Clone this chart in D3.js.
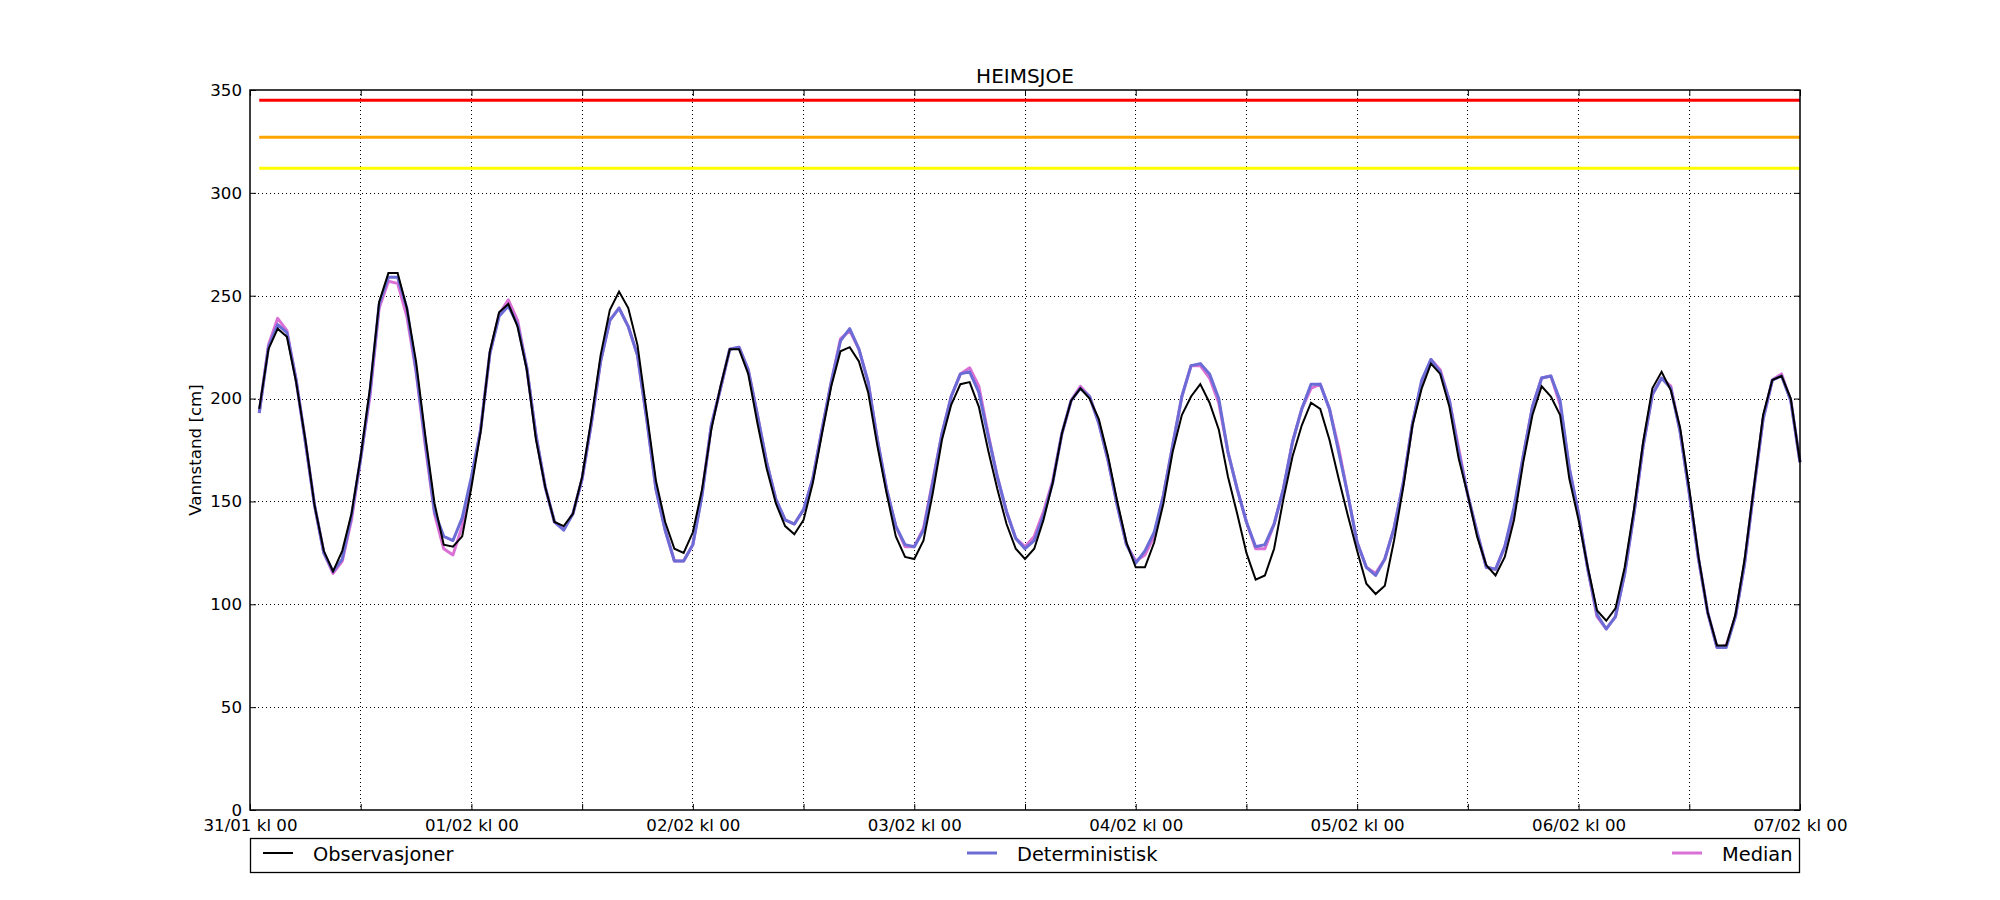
<!DOCTYPE html>
<html>
<head>
<meta charset="utf-8">
<script src="https://cdnjs.cloudflare.com/ajax/libs/d3/7.8.5/d3.min.js"></script>
<style>
  html, body { margin: 0; padding: 0; background: #ffffff; }
  svg { display: block; font-family: "DejaVu Sans", "Liberation Sans", sans-serif; }
</style>
</head>
<body>
<svg id="chart" width="2000" height="900"></svg>
<script>
// ---------- data (hourly, hour 1 .. 168 after 31/01 kl 00) ----------
const title = "HEIMSJOE";
const yLabel = "Vannstand [cm]";
const seriesNames = ["Observasjoner", "Deterministisk", "Median"];
const yTicks = [0, 50, 100, 150, 200, 250, 300, 350];
const thresholds = [345, 327, 312];
const thresholdColors = ["#ff0000", "#ffa500", "#ffff00"];

const observasjoner = [
  195,224,234,230,208,180,148,126,116,126,144,172,205,247,261,261,244,218,182,149,129,128,133,157,
  184,223,242,246,235,214,180,157,140,138,144,162,190,221,243,252,244,226,193,160,140,127,125,135,
  156,185,206,224,224,212,188,166,149,138,134,141,159,183,206,223,225,218,203,177,154,133,123,122,
  131,154,180,197,207,208,196,175,156,139,127,122,127,141,159,183,199,205,200,190,172,150,130,118,
  118,130,149,174,192,201,207,198,185,162,144,125,112,114,127,151,172,187,198,195,180,161,143,126,
  110,105,109,131,157,187,205,217,212,196,171,153,133,119,114,123,141,169,192,206,201,192,161,141,
  118,97,92,98,118,146,179,205,213,204,186,156,123,96,80,80,95,122,157,192,209,211,200,169
];
const deterministisk = [
  193,225,236,232,209,179,148,125,116,122,143,171,203,246,259,259,244,214,179,145,133,131,142,162,
  185,222,240,245,236,215,182,157,140,136,144,161,188,218,238,244,235,221,190,156,136,121,121,129,
  153,187,205,224,225,214,192,169,151,141,139,146,161,185,208,228,234,224,208,180,156,138,129,128,
  136,159,183,201,212,213,203,182,162,145,132,127,131,143,159,183,199,205,201,188,170,148,129,120,
  126,135,153,177,201,216,217,212,200,174,156,140,128,129,139,156,179,195,207,207,195,174,153,130,
  118,114,122,137,159,188,209,219,213,199,174,153,135,118,117,128,147,172,196,210,211,199,166,144,
  117,95,88,94,115,144,177,202,210,205,184,154,122,96,79,79,94,120,156,190,209,211,199,169
];
const median = [
  193,226,239,233,209,179,148,125,115,121,141,171,201,244,257,256,240,213,177,144,127,124,138,160,
  185,222,241,248,238,215,182,157,140,137,144,161,188,218,238,244,235,221,190,156,136,121,121,129,
  154,187,205,224,225,214,192,169,151,141,139,146,161,185,208,229,233,224,208,180,156,138,128,128,
  137,160,183,201,212,215,206,183,162,145,132,128,133,145,160,183,199,206,201,188,170,148,129,121,
  124,133,153,177,201,216,216,210,198,174,156,140,127,127,139,156,179,195,205,207,195,176,153,130,
  118,115,122,137,159,188,208,219,214,199,176,153,135,118,117,128,144,172,196,210,211,197,166,144,
  117,94,88,94,115,144,177,202,210,206,184,154,122,96,79,80,94,120,156,190,209,212,199,169
];

// ---------- layout ----------
const W = 2000, H = 900;
const M = { left: 250, right: 1800, top: 90, bottom: 810 };
const svg = d3.select("#chart");

const start = new Date(Date.UTC(2019, 0, 31, 0));
const end = new Date(Date.UTC(2019, 1, 7, 0));
const times = observasjoner.map((_, i) => d3.utcHour.offset(start, i + 1));

const x = d3.scaleUtc().domain([start, end]).range([M.left, M.right]);
const y = d3.scaleLinear().domain([0, 350]).range([M.bottom, M.top]);

const tickTimes = d3.utcHour.every(12).range(start, d3.utcHour.offset(end, 1));
const fmt = d3.utcFormat("%d/%m kl %H");

// grid
const grid = svg.append("g");
grid.selectAll("line.vg").data(tickTimes.slice(1, -1)).join("line")
  .attr("x1", d => x(d)).attr("x2", d => x(d))
  .attr("y1", M.top).attr("y2", M.bottom)
  .attr("stroke", "#000").attr("stroke-width", 1).attr("stroke-dasharray", "1,3")
  .attr("shape-rendering", "crispEdges");
grid.selectAll("line.hg").data(yTicks.slice(1, -1)).join("line")
  .attr("x1", M.left).attr("x2", M.right)
  .attr("y1", d => Math.round(y(d)) + 0.5).attr("y2", d => Math.round(y(d)) + 0.5)
  .attr("stroke", "#000").attr("stroke-width", 1).attr("stroke-dasharray", "1,3");

// thresholds
thresholds.forEach((t, i) => {
  svg.append("path")
    .datum(times)
    .attr("d", d3.line().x(d => x(d)).y(() => y(t)))
    .attr("fill", "none").attr("stroke", thresholdColors[i]).attr("stroke-width", 3);
});

// series
const line = d3.line().x((d, i) => x(times[i])).y(d => y(d));
svg.append("path").datum(median).attr("d", line)
  .attr("fill", "none").attr("stroke", "#da70d6").attr("stroke-width", 3).attr("stroke-linejoin", "round");
svg.append("path").datum(deterministisk).attr("d", line)
  .attr("fill", "none").attr("stroke", "#6c6cd6").attr("stroke-width", 3).attr("stroke-linejoin", "round");
svg.append("path").datum(observasjoner).attr("d", line)
  .attr("fill", "none").attr("stroke", "#000").attr("stroke-width", 2).attr("stroke-linejoin", "miter");

// frame
svg.append("rect").attr("x", M.left).attr("y", M.top)
  .attr("width", M.right - M.left).attr("height", M.bottom - M.top)
  .attr("fill", "none").attr("stroke", "#000").attr("stroke-width", 1.5);

// axes (ticks inside, on all sides)
const tickLen = 6;
const xb = d3.axisBottom(x).tickValues(tickTimes).tickSize(-tickLen)
  .tickFormat(d => d.getUTCHours() === 0 ? fmt(d) : "").tickPadding(8);
const gx = svg.append("g").attr("transform", `translate(0,${M.bottom})`).call(xb);
const xt = d3.axisTop(x).tickValues(tickTimes).tickSize(-tickLen).tickFormat("");
const gxt = svg.append("g").attr("transform", `translate(0,${M.top})`).call(xt);
const yl = d3.axisLeft(y).tickValues(yTicks).tickSize(-tickLen).tickPadding(8);
const gy = svg.append("g").attr("transform", `translate(${M.left},0)`).call(yl);
const yr = d3.axisRight(y).tickValues(yTicks).tickSize(-tickLen).tickFormat("");
const gyr = svg.append("g").attr("transform", `translate(${M.right},0)`).call(yr);
[gx, gxt, gy, gyr].forEach(g => {
  g.select(".domain").remove();
  g.selectAll(".tick line").attr("stroke", "#000").attr("stroke-width", 1);
  g.selectAll("text").attr("fill", "#000").attr("font-size", "16.67px")
    .attr("font-family", "DejaVu Sans, sans-serif");
});
gx.selectAll("text").attr("dy", "0.75em");

// title & y label
svg.append("text").attr("x", (M.left + M.right) / 2).attr("y", 83)
  .attr("text-anchor", "middle").attr("font-size", "20px").attr("fill", "#000").text(title);
svg.append("text")
  .attr("transform", `translate(201,${(M.top + M.bottom) / 2}) rotate(-90)`)
  .attr("text-anchor", "middle").attr("font-size", "16.67px").attr("fill", "#000").text(yLabel);

// legend
const leg = svg.append("g");
leg.append("rect").attr("x", 250.5).attr("y", 838.5).attr("width", 1549).attr("height", 34)
  .attr("fill", "#fff").attr("stroke", "#000").attr("stroke-width", 1.3);
const legendColors = ["#000", "#6c6cd6", "#da70d6"];
const legendWidths = [2, 3, 3];
const legendX = [263, 967, 1672];
seriesNames.forEach((n, i) => {
  leg.append("line").attr("x1", legendX[i]).attr("x2", legendX[i] + 30)
    .attr("y1", 853).attr("y2", 853)
    .attr("stroke", legendColors[i]).attr("stroke-width", legendWidths[i]);
  leg.append("text").attr("x", legendX[i] + 50).attr("y", 860.5)
    .attr("font-size", "19.4px").attr("fill", "#000").text(n);
});
</script>
</body>
</html>
